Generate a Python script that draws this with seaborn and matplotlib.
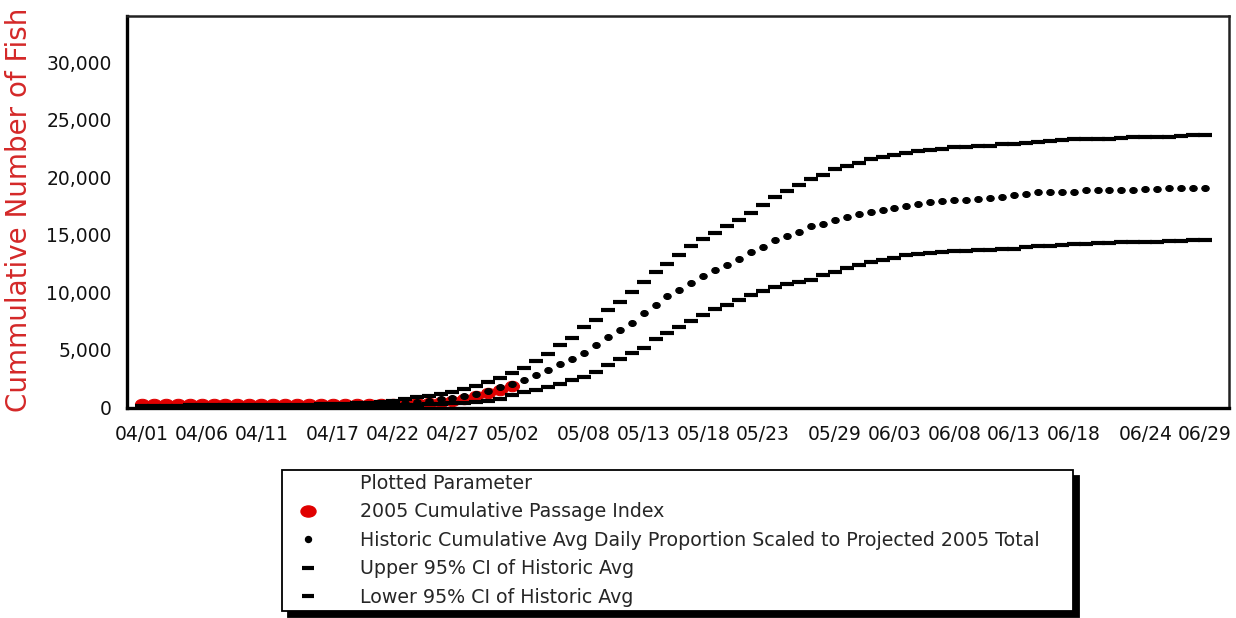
import matplotlib
matplotlib.use('Agg')
import matplotlib.pyplot as plt
from matplotlib.lines import Line2D
from matplotlib.markers import MarkerStyle
from matplotlib.transforms import Affine2D
import matplotlib.ticker as mticker
import seaborn as sns
import numpy as np
import pandas as pd

# daily dates 04/01 - 06/29 (2005)
dates = pd.date_range('2005-04-01', '2005-06-29', freq='D')

tick_labels = ['04/01', '04/06', '04/11', '04/17', '04/22', '04/27', '05/02', '05/08', '05/13',
               '05/18', '05/23', '05/29', '06/03', '06/08', '06/13', '06/18', '06/24', '06/29']

# 2005 cumulative passage index (04/01 - 05/02)
passage_2005 = [280, 290, 290, 290, 300, 300, 300, 300, 300, 300,
                300, 300, 300, 300, 300, 300, 310, 310, 320, 320,
                330, 340, 350, 370, 400, 450, 550, 700, 950, 1250,
                1550, 1900]

hist_avg = [60, 60, 70, 70, 80, 80, 90, 90, 100, 100,
            110, 120, 130, 140, 150, 170, 190, 210, 240, 270,
            300, 350, 420, 500, 600, 720, 850, 1000, 1200, 1450,
            1750, 2000, 2350, 2780, 3220, 3740, 4230, 4750, 5450, 6150,
            6700, 7360, 8230, 8930, 9650, 10170, 10840, 11390, 11910, 12410,
            12930, 13500, 13940, 14520, 14870, 15200, 15740, 15970, 16260, 16550,
            16780, 16980, 17190, 17360, 17500, 17650, 17830, 17940, 18000, 18060,
            18140, 18230, 18300, 18430, 18500, 18700, 18720, 18730, 18750, 18870,
            18880, 18890, 18900, 18910, 19000, 19010, 19020, 19030, 19040, 19050]

upper_ci = [150, 150, 160, 160, 170, 170, 180, 180, 190, 190,
            200, 210, 220, 230, 250, 270, 300, 330, 350, 400,
            450, 520, 750, 880, 1000, 1200, 1330, 1570, 1850, 2180,
            2590, 2970, 3450, 4000, 4670, 5390, 6060, 6990, 7620, 8500,
            9200, 10000, 10900, 11800, 12500, 13200, 14050, 14600, 15150, 15800,
            16300, 16900, 17550, 18250, 18800, 19300, 19800, 20230, 20670, 20960,
            21240, 21540, 21770, 21970, 22110, 22260, 22400, 22460, 22580, 22640,
            22700, 22750, 22850, 22900, 23000, 23050, 23150, 23200, 23300, 23300,
            23320, 23350, 23400, 23450, 23500, 23500, 23520, 23540, 23650, 23700]

lower_ci = [30, 30, 30, 40, 40, 40, 50, 50, 50, 60,
            60, 70, 70, 80, 80, 90, 100, 110, 120, 130,
            150, 170, 190, 220, 260, 300, 350, 400, 460, 520,
            750, 1050, 1330, 1540, 1770, 2000, 2350, 2640, 3070, 3680,
            4200, 4720, 5190, 5910, 6460, 6980, 7500, 8000, 8520, 8870,
            9360, 9740, 10090, 10460, 10750, 10900, 11100, 11480, 11770, 12120,
            12410, 12640, 12840, 13020, 13220, 13360, 13390, 13500, 13570, 13600,
            13650, 13680, 13800, 13800, 13900, 14000, 14050, 14100, 14200, 14230,
            14280, 14300, 14330, 14350, 14380, 14400, 14420, 14440, 14500, 14520]

labels = ['2005 Cumulative Passage Index',
          'Historic Cumulative Avg Daily Proportion Scaled to Projected 2005 Total',
          'Upper 95% CI of Historic Avg',
          'Lower 95% CI of Historic Avg']

sns.set_style('white')
plt.rcParams['font.family'] = ['DejaVu Sans']

fig = plt.figure(figsize=(12.36, 6.18), dpi=100)
ax = fig.add_axes([0.1027, 0.3398, 0.8916, 0.6343])

red_marker = MarkerStyle('o', transform=Affine2D().scale(1.35, 1.0))
dot_marker = MarkerStyle('o', transform=Affine2D().scale(1.25, 1.0))

sns.lineplot(x=dates[:len(passage_2005)], y=passage_2005, ax=ax, linestyle='',
             marker=red_marker, markersize=7.5, color='#e00000', markeredgecolor='#e00000')
sns.lineplot(x=dates, y=upper_ci, ax=ax, linestyle='', marker='_',
             markersize=9.8, markeredgewidth=3, color='black', markeredgecolor='black')
sns.lineplot(x=dates, y=lower_ci, ax=ax, linestyle='', marker='_',
             markersize=9.8, markeredgewidth=3, color='black', markeredgecolor='black')
sns.lineplot(x=dates, y=hist_avg, ax=ax, linestyle='', marker=dot_marker,
             markersize=4.3, color='black', markeredgecolor='black')

ax.set_xlim(dates[0] - pd.Timedelta(hours=30), dates[-1] + pd.Timedelta(hours=48))
ax.set_ylim(-50, 34000)
ax.set_yticks([0, 5000, 10000, 15000, 20000, 25000, 30000])
ax.yaxis.set_major_formatter(mticker.FuncFormatter(lambda v, p: f'{int(v):,}'))
ax.set_xticks(pd.to_datetime(['2005/' + t for t in tick_labels]))
ax.set_xticklabels(tick_labels)
ax.tick_params(axis='both', direction='out', length=6, width=1.2, color='#555555',
               labelsize=13.5, labelcolor='#111111')
ax.tick_params(axis='x', pad=6)
ax.tick_params(axis='y', pad=5)

for side in ['top', 'right']:
    ax.spines[side].set_linewidth(1.8)
    ax.spines[side].set_color('#222222')
for side in ['left', 'bottom']:
    ax.spines[side].set_linewidth(2.4)
    ax.spines[side].set_color('black')

ax.set_xlabel('')
ax.set_ylabel('Cummulative Number of Fish', color='#d42828', fontsize=20)
ax.yaxis.set_label_coords(-0.085, 0.505)

handles = [Line2D([], [], linestyle='', marker=''),
           Line2D([], [], linestyle='', marker=red_marker, markersize=8, color='#e00000'),
           Line2D([], [], linestyle='', marker='o', markersize=4.3, color='black'),
           Line2D([], [], linestyle='', marker='_', markersize=9, markeredgewidth=3, color='black'),
           Line2D([], [], linestyle='', marker='_', markersize=9, markeredgewidth=3, color='black')]
leg = fig.legend(handles, ['Plotted Parameter'] + labels, loc='upper left',
                 bbox_to_anchor=(0.228, 0.0097, 0.64, 0.23), bbox_transform=fig.transFigure,
                 mode='expand', borderaxespad=0, fontsize=13.7, numpoints=1,
                 handlelength=2.4, handletextpad=1.5, borderpad=0.2, labelspacing=0.5,
                 fancybox=False, framealpha=1, edgecolor='black',
                 shadow={'ox': 4.3, 'oy': -4.3, 'color': 'black', 'alpha': 1})
leg.get_frame().set_linewidth(1.3)

plt.savefig('out.png', dpi=100)
